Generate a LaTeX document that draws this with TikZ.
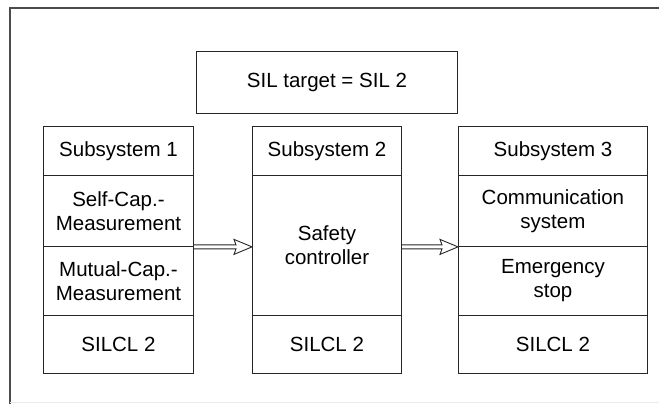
\documentclass[tikz,border=0pt]{standalone}
\usepackage{fontspec}
\setmainfont{Liberation Sans}
\usetikzlibrary{calc}

\tikzset{
  cell/.style={draw=black!85, line width=0.9pt, rectangle, anchor=north west,
    inner sep=0pt, align=center, font=\fontsize{20.5}{24}\selectfont},
  framestyle/.style={draw=black!70, line width=1.3pt},
  linkarrow/.style={draw=black!85, line width=0.9pt, line join=miter,
    to path={
      let \p1=(\tikztostart), \p2=(\tikztotarget) in
      (\x1,\y1+2pt) -- (\x2-16pt,\y1+2pt) -- (\x2-18pt,\y1+7.5pt) -- (\x2,\y1)
      -- (\x2-18pt,\y1-7.5pt) -- (\x2-16pt,\y1-2pt) -- (\x1,\y1-2pt)
    }}
}

% rectangle cell: name, left, top, width, height, text
\newcommand{\cellbox}[6]{%
  \node[cell, minimum width=#4pt, minimum height=#5pt] (#1) at (#2,-#3) {#6};}

\begin{document}
\begin{tikzpicture}[x=1pt, y=1pt]
  \useasboundingbox (0,0) rectangle (659,-404);

  % outer frame (open on the right)
  \draw[framestyle] (659,-8) -- (10,-8) -- (10,-404);
  \draw[draw=black!8, line width=1pt] (10,-402.5) -- (659,-402.5);

  % requirement
  \cellbox{target}{196}{51}{261}{62}{SIL target = SIL 2}

  % subsystem 1
  \cellbox{h1}{43}{126}{150}{49}{Subsystem 1}
  \cellbox{s1a}{43}{175}{150}{71}{Self-Cap.-\\Measurement}
  \cellbox{s1b}{43}{246}{150}{69}{Mutual-Cap.-\\Measurement}
  \cellbox{l1}{43}{315}{150}{58}{SILCL 2}

  % subsystem 2
  \cellbox{h2}{252}{126}{149}{49}{Subsystem 2}
  \cellbox{s2}{252}{175}{149}{140}{Safety\\controller}
  \cellbox{l2}{252}{315}{149}{58}{SILCL 2}

  % subsystem 3
  \cellbox{h3}{458}{126}{189}{49}{Subsystem 3}
  \cellbox{s3a}{458}{175}{189}{71}{Communication\\system}
  \cellbox{s3b}{458}{246}{189}{69}{Emergency\\stop}
  \cellbox{l3}{458}{315}{189}{58}{SILCL 2}

  % links between subsystems
  \draw[linkarrow] (s1a.south east) to (s1a.south east -| s2.west);
  \draw[linkarrow] (s2.east |- s3a.south west) to (s3a.south west);
\end{tikzpicture}
\end{document}
